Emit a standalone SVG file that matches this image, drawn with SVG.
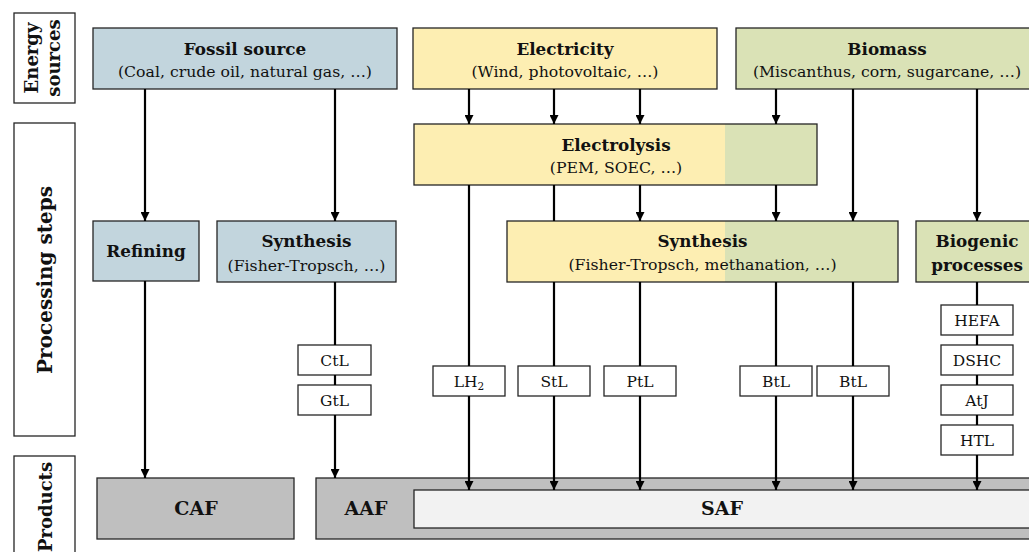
<svg xmlns="http://www.w3.org/2000/svg" width="1029" height="552" viewBox="0 0 1029 552">
<style>
.box{stroke:#262626;stroke-width:1.3}
.fos{fill:#c2d5dd}
.ele{fill:#fdeeb2}
.bio{fill:#dae2b6}
.gry{fill:#bfbfbf}
.lgt{fill:#f2f2f2}
.wht{fill:#ffffff}
.lbl{fill:#ffffff}
.t{font-family:"DejaVu Serif","Liberation Serif",serif;fill:#111;text-anchor:middle}
.b{font-weight:bold;font-size:16.8px}
.s{font-size:15.7px}
.sm{font-size:15.5px}
.side{font-weight:bold;font-size:18px}
.big{font-weight:bold;font-size:20px}
.prod{font-weight:bold;font-size:19px}
.c{stroke:#000;stroke-width:2.2;fill:none}
.a{marker-end:url(#arr)}
</style>
<defs>
<marker id="arr" markerUnits="userSpaceOnUse" markerWidth="9" markerHeight="9" refX="9" refY="4.5" orient="auto" viewBox="0 0 9 9">
<path d="M0,0 L9,4.5 L0,9 z" fill="#000"/>
</marker>
</defs>

<g id="label-energy">
<rect class="box lbl" x="14" y="13" width="61" height="90"/>
<g transform="translate(44.5,58) rotate(-90)">
<text class="t side" x="0" y="-7">Energy</text>
<text class="t side" x="0" y="15">sources</text>
</g>
</g>
<g id="label-processing">
<rect class="box lbl" x="14" y="123" width="61" height="313"/>
<text class="t big" transform="translate(52,280) rotate(-90)">Processing steps</text>
</g>
<g id="label-products">
<rect class="box lbl" x="14" y="456" width="61" height="120"/>
<text class="t side" transform="translate(52,507) rotate(-90)">Products</text>
</g>

<g id="fossil">
<rect class="box fos" x="93" y="28" width="304" height="61"/>
<text class="t b" x="245" y="55">Fossil source</text>
<text class="t s" x="245" y="77">(Coal, crude oil, natural gas, …)</text>
</g>
<g id="electricity">
<rect class="box ele" x="413" y="28" width="304" height="61"/>
<text class="t b" x="565" y="55">Electricity</text>
<text class="t s" x="565" y="77">(Wind, photovoltaic, …)</text>
</g>
<g id="biomass">
<rect class="box bio" x="736" y="28" width="302" height="61"/>
<text class="t b" x="887" y="55">Biomass</text>
<text class="t s" x="887" y="77">(Miscanthus, corn, sugarcane, …)</text>
</g>

<g id="electrolysis">
<rect class="ele" x="414" y="124" width="311" height="61"/>
<rect class="bio" x="725" y="124" width="92" height="61"/>
<rect class="box" fill="none" x="414" y="124" width="403" height="61"/>
<text class="t b" x="616" y="151">Electrolysis</text>
<text class="t s" x="616" y="173">(PEM, SOEC, …)</text>
</g>

<g id="refining">
<rect class="box fos" x="93" y="221" width="106" height="60"/>
<text class="t b" x="146" y="257">Refining</text>
</g>
<g id="synthesis-fossil">
<rect class="box fos" x="217" y="221" width="179" height="61"/>
<text class="t b" x="306.5" y="247">Synthesis</text>
<text class="t s" x="306.5" y="271">(Fisher-Tropsch, …)</text>
</g>
<g id="synthesis">
<rect class="ele" x="507" y="221" width="218" height="61"/>
<rect class="bio" x="725" y="221" width="173" height="61"/>
<rect class="box" fill="none" x="507" y="221" width="391" height="61"/>
<text class="t b" x="702.5" y="247">Synthesis</text>
<text class="t s" x="702.5" y="270">(Fisher-Tropsch, methanation, …)</text>
</g>
<g id="biogenic">
<rect class="box bio" x="916" y="221" width="122" height="61"/>
<text class="t b" x="977" y="247">Biogenic</text>
<text class="t b" x="977" y="271">processes</text>
</g>

<g id="ctl"><rect class="box wht" x="298" y="345" width="73" height="30"/><text class="t sm" x="334.5" y="366">CtL</text></g>
<g id="gtl"><rect class="box wht" x="298" y="385" width="73" height="30"/><text class="t sm" x="334.5" y="406">GtL</text></g>
<g id="lh2"><rect class="box wht" x="433" y="366" width="72" height="30"/><text class="t sm" x="469" y="387">LH<tspan font-size="10.5" dy="3">2</tspan></text></g>
<g id="stl"><rect class="box wht" x="518" y="366" width="72" height="30"/><text class="t sm" x="554" y="387">StL</text></g>
<g id="ptl"><rect class="box wht" x="604" y="366" width="72" height="30"/><text class="t sm" x="640" y="387">PtL</text></g>
<g id="btl1"><rect class="box wht" x="740" y="366" width="72" height="30"/><text class="t sm" x="776" y="387">BtL</text></g>
<g id="btl2"><rect class="box wht" x="817" y="366" width="72" height="30"/><text class="t sm" x="853" y="387">BtL</text></g>
<g id="hefa"><rect class="box wht" x="941" y="305" width="72" height="30"/><text class="t sm" x="977" y="326">HEFA</text></g>
<g id="dshc"><rect class="box wht" x="941" y="345" width="72" height="30"/><text class="t sm" x="977" y="366">DSHC</text></g>
<g id="atj"><rect class="box wht" x="941" y="385" width="72" height="30"/><text class="t sm" x="977" y="406">AtJ</text></g>
<g id="htl"><rect class="box wht" x="941" y="425" width="72" height="30"/><text class="t sm" x="977" y="446">HTL</text></g>

<g id="caf">
<rect class="box gry" x="97" y="478" width="197" height="61"/>
<text class="t prod" x="196" y="515">CAF</text>
</g>
<g id="aaf">
<rect class="box gry" x="316" y="478" width="722" height="61"/>
<text class="t prod" x="366" y="515">AAF</text>
</g>
<g id="saf">
<rect class="box lgt" x="414" y="490" width="620" height="38"/>
<text class="t prod" x="722" y="515">SAF</text>
</g>

<g id="connectors">
<path class="c a" d="M145,89 V221"/>
<path class="c a" d="M335,89 V221"/>
<path class="c a" d="M145,281 V478"/>
<path class="c" d="M335,282 V345 M335,375 V385"/>
<path class="c a" d="M335,415 V478"/>
<path class="c a" d="M469,89 V124"/>
<path class="c a" d="M554,89 V124"/>
<path class="c a" d="M640,89 V124"/>
<path class="c a" d="M776,89 V124"/>
<path class="c a" d="M853,89 V221"/>
<path class="c a" d="M977,89 V221"/>
<path class="c" d="M469,185 V366"/>
<path class="c a" d="M469,396 V490"/>
<path class="c" d="M554,185 V221 M554,282 V366"/>
<path class="c a" d="M554,396 V490"/>
<path class="c a" d="M640,185 V221"/>
<path class="c" d="M640,282 V366"/>
<path class="c a" d="M640,396 V490"/>
<path class="c a" d="M776,185 V221"/>
<path class="c" d="M776,282 V366"/>
<path class="c a" d="M776,396 V490"/>
<path class="c" d="M853,282 V366"/>
<path class="c a" d="M853,396 V490"/>
<path class="c" d="M977,282 V305 M977,335 V345 M977,375 V385 M977,415 V425"/>
<path class="c a" d="M977,455 V490"/>
</g>
</svg>
